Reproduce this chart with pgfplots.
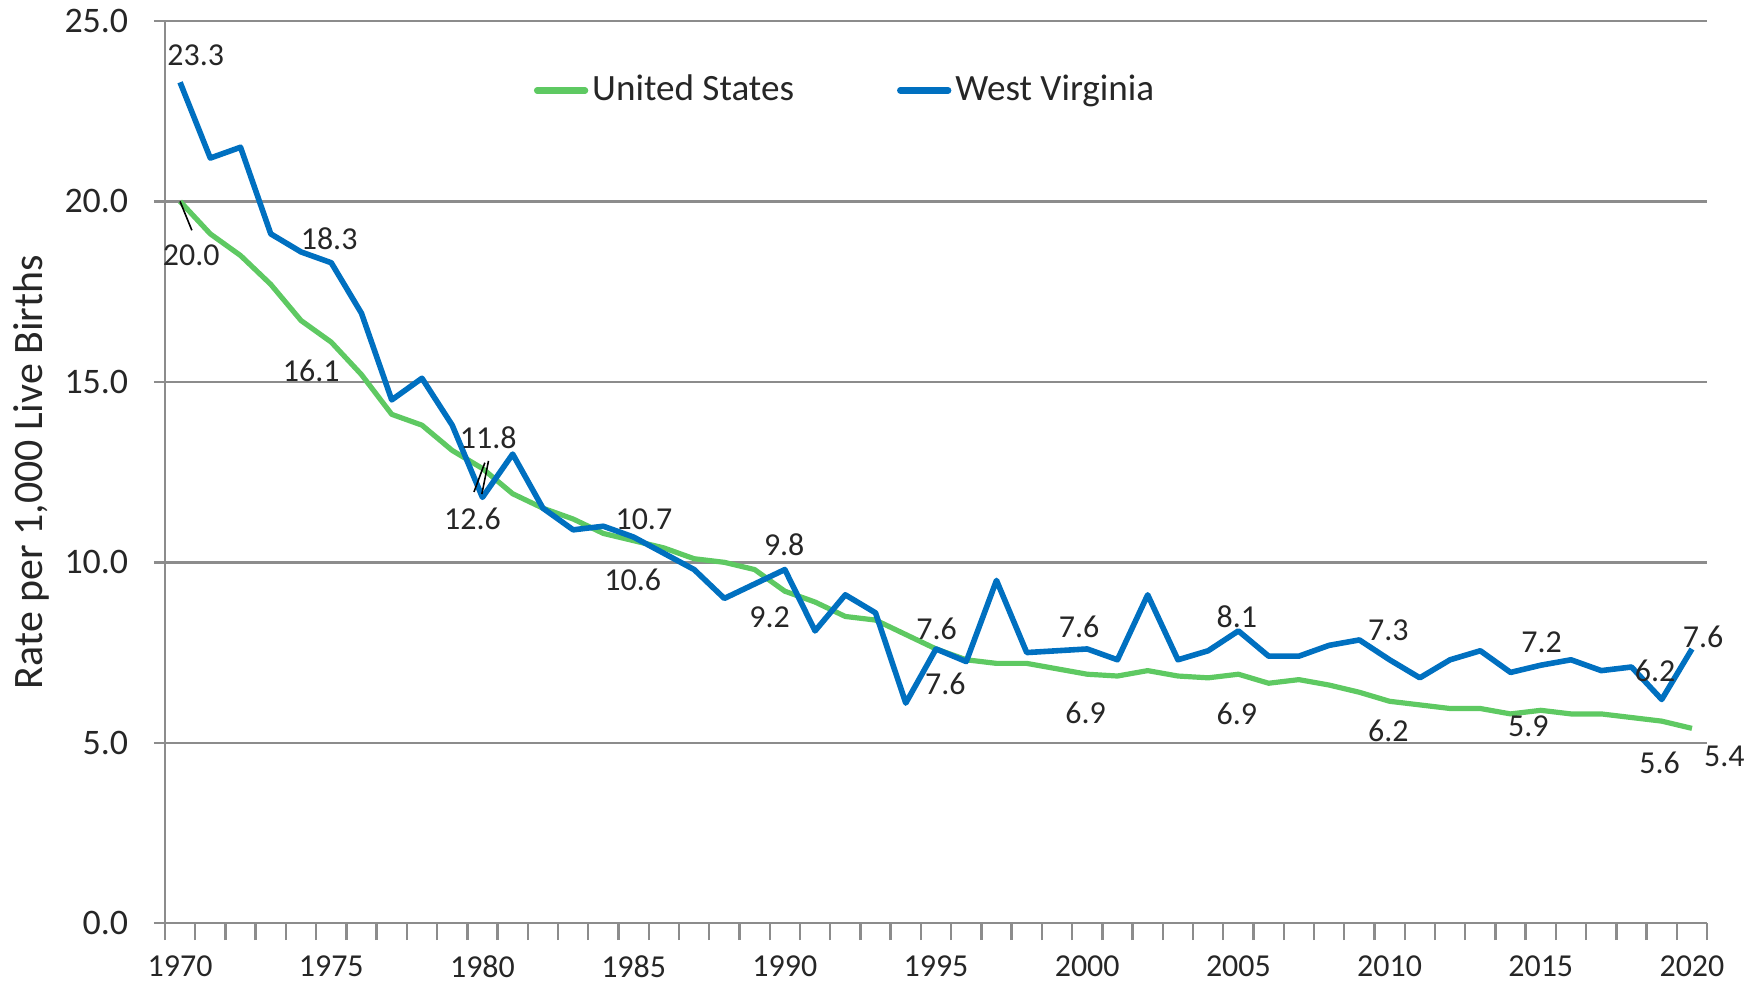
\documentclass[border=0pt]{standalone}
\usepackage{pgfplots}
\pgfplotsset{compat=1.18}
\usepackage{fontspec}
\setmainfont{Carlito}

\definecolor{usgreen}{RGB}{94,201,98}
\definecolor{wvblue}{RGB}{0,112,192}
\definecolor{gridgray}{RGB}{140,140,140}
\definecolor{txt}{RGB}{38,38,38}

% infant mortality, rate per 1,000 live births
\pgfplotstableread{
year us   wv
1970 20.0 23.3
1971 19.1 21.2
1972 18.5 21.5
1973 17.7 19.1
1974 16.7 18.6
1975 16.1 18.3
1976 15.2 16.9
1977 14.1 14.5
1978 13.8 15.1
1979 13.1 13.8
1980 12.6 11.8
1981 11.9 13.0
1982 11.5 11.5
1983 11.2 10.9
1984 10.8 11.0
1985 10.6 10.7
1986 10.4 10.25
1987 10.1 9.8
1988 10.0 9.0
1989 9.8  9.4
1990 9.2  9.8
1991 8.9  8.1
1992 8.5  9.1
1993 8.4  8.6
1994 8.0  6.1
1995 7.6  7.6
1996 7.3  7.25
1997 7.2  9.5
1998 7.2  7.5
1999 7.05 7.55
2000 6.9  7.6
2001 6.85 7.3
2002 7.0  9.1
2003 6.85 7.3
2004 6.8  7.55
2005 6.9  8.1
2006 6.65 7.4
2007 6.75 7.4
2008 6.6  7.7
2009 6.4  7.85
2010 6.15 7.3
2011 6.05 6.8
2012 5.95 7.3
2013 5.95 7.55
2014 5.8  6.95
2015 5.9  7.15
2016 5.8  7.3
2017 5.8  7.0
2018 5.7  7.1
2019 5.6  6.2
2020 5.4  7.6
}\ratedata

\begin{document}
\begin{tikzpicture}
\begin{axis}[
    scale only axis,
    width=386.25pt, height=226pt,
    xmin=1969.5, xmax=2020.5,
    ymin=0, ymax=25,
    axis lines*=left,
    axis line style={gridgray, line width=0.6pt, -},
    clip=false,
    xtick={1970,1975,...,2020},
    minor xtick={1969.5,1970.5,...,2020.5},
    ytick={0,5,...,25},
    tick align=outside,
    major tick length=2.75pt,
    minor tick length=4.25pt,
    major x tick style={draw=none},
    minor x tick style={gridgray, line width=0.6pt},
    major y tick style={gridgray, line width=0.6pt},
    ymajorgrids,
    major grid style={gridgray, line width=0.6pt},
    x tick label style={/pgf/number format/1000 sep={}, font=\fontsize{8}{9}\selectfont,
        text=txt, inner sep=0pt, anchor=center, yshift=-8.1pt},
    y tick label style={/pgf/number format/.cd, fixed, fixed zerofill, precision=1,
        /tikz/.cd, font=\fontsize{9}{10}\selectfont, text=txt, inner sep=0pt, xshift=-6.25pt},
    /pgf/number format/assume math mode=true,
    ylabel={Rate per 1,000 Live Births},
    ylabel style={at={(rel axis cs:-0.0867,0.5)}, anchor=center,
        font=\fontsize{10.5}{12}\selectfont, text=txt},
    legend style={draw=none, fill=none, at={(rel axis cs:0.231,0.923)}, anchor=west,
        legend columns=2, font=\fontsize{9.3}{11}\selectfont, text=txt,
        /tikz/every even column/.append style={column sep=24.8pt},
        nodes={inner sep=1pt}},
    legend image code/.code={\draw[#1, line cap=round, line width=1.6pt] (0pt,0pt) -- (12pt,0pt);},
]
\addplot[usgreen, line width=1.3pt, line join=round] table[x=year, y=us] {\ratedata};
\addlegendentry{United States}
\addplot[wvblue, line width=1.4pt, line join=round] table[x=year, y=wv] {\ratedata};
\addlegendentry{West Virginia}

% data labels
\begin{scope}[every node/.style={font=\fontsize{8}{9}\selectfont, text=txt, inner sep=0pt}]
\node at (axis cs:1970.52,24.04) {23.3};
\node at (axis cs:1970.37,18.5) {20.0};
\node at (axis cs:1974.93,18.97) {18.3};
\node at (axis cs:1974.34,15.30) {16.1};
\node at (axis cs:1980.19,13.44) {11.8};
\node at (axis cs:1979.67,11.2) {12.6};
\node at (axis cs:1985.34,11.2) {10.7};
\node at (axis cs:1984.97,9.52) {10.6};
\node at (axis cs:1989.98,10.48) {9.8};
\node at (axis cs:1989.5,8.49) {9.2};
\node at (axis cs:1995.02,8.15) {7.6};
\node at (axis cs:1995.31,6.63) {7.6};
\node at (axis cs:1999.73,8.21) {7.6};
\node at (axis cs:1999.95,5.82) {6.9};
\node at (axis cs:2004.95,8.49) {8.1};
\node at (axis cs:2004.95,5.79) {6.9};
\node at (axis cs:2009.96,8.12) {7.3};
\node at (axis cs:2009.96,5.32) {6.2};
\node at (axis cs:2015.03,7.78) {7.2};
\node at (axis cs:2014.59,5.47) {5.9};
\node at (axis cs:2018.78,7.0) {6.2};
\node at (axis cs:2018.93,4.45) {5.6};
\node at (axis cs:2020.37,7.93) {7.6};
\node at (axis cs:2021.07,4.63) {5.4};
\end{scope}
% leader lines
\draw[black, line width=0.4pt] (axis cs:1970.0,20.0) -- (axis cs:1970.39,19.2);
\draw[black, line width=0.4pt] (axis cs:1979.72,11.95) -- (axis cs:1980.08,12.76);
\draw[black, line width=0.4pt] (axis cs:1979.98,11.89) -- (axis cs:1980.20,12.81);
% page frame
\path (rel axis cs:-0.1049,-0.0642) (rel axis cs:1.0356,1.0232);
\end{axis}
\end{tikzpicture}
\end{document}
